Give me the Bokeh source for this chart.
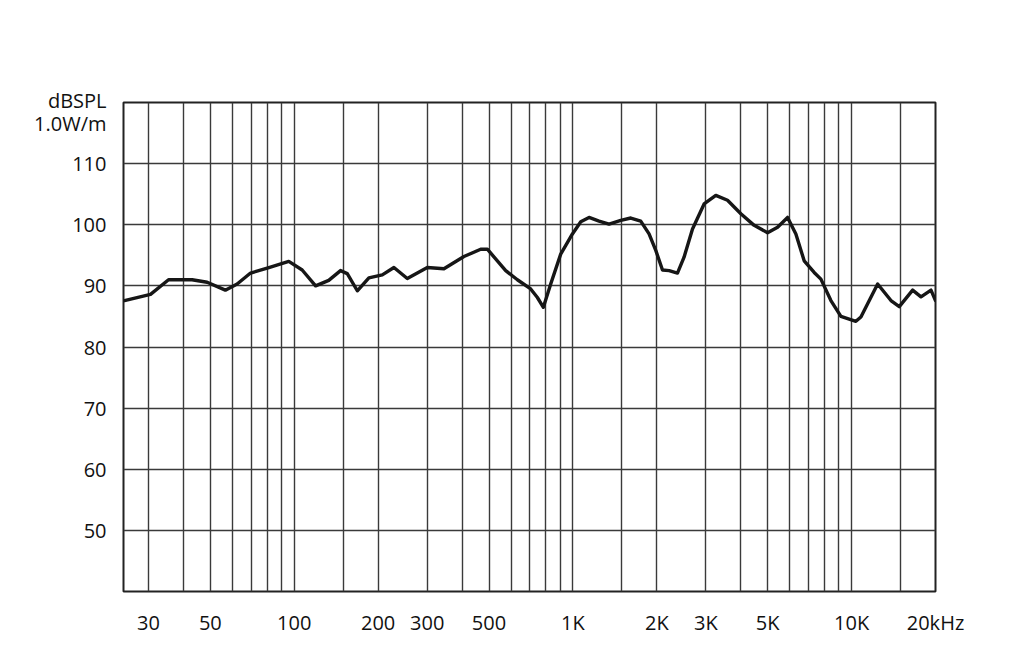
from bokeh.plotting import figure
from bokeh.models import FixedTicker, Range1d
from bokeh.embed import file_html
from bokeh.resources import INLINE

# Frequency response (Hz, dB SPL @ 1.0 W/m)
freq = [24.6, 30.5, 35.4, 43.0, 48.7, 56.6, 62.4, 69.7, 81.1, 95.6,
        106.8, 119.3, 133, 146.6, 155, 168.4, 185.3, 207, 227.9, 254.5,
        300.3, 344.5, 406.4, 466.7, 493.2, 573.8, 632, 705.5, 745.6, 783.4,
        832.4, 904, 995.9, 1067, 1142.6, 1241, 1348, 1485, 1613, 1751,
        1876, 1983, 2096, 2214, 2372, 2505, 2686, 2956, 3256, 3587,
        4005, 4470, 4993, 5425, 5891, 6310, 6758, 7339, 7759, 8428,
        9155, 10361, 10799, 12400, 13842, 14827, 16558, 17741, 19268, 20000]
spl = [87.6, 88.6, 91.0, 91.0, 90.6, 89.3, 90.3, 92.1, 93.0, 94.0,
       92.6, 90.0, 90.9, 92.5, 92.0, 89.2, 91.3, 91.8, 93.0, 91.2,
       93.0, 92.8, 94.8, 96.0, 96.0, 92.5, 91.0, 89.5, 88.1, 86.5,
       90.3, 95.2, 98.5, 100.5, 101.2, 100.6, 100.1, 100.7, 101.1, 100.6,
       98.5, 95.8, 92.6, 92.5, 92.1, 94.7, 99.3, 103.4, 104.8, 104.0,
       101.8, 99.9, 98.7, 99.6, 101.2, 98.5, 94.1, 92.2, 91.1, 87.6,
       85.0, 84.2, 84.9, 90.3, 87.6, 86.6, 89.3, 88.2, 89.3, 87.6]

x_label_ticks = [30, 50, 100, 200, 300, 500, 1000, 2000, 3000, 5000, 10000, 20000]
x_label_text = ["30", "50", "100", "200", "300", "500", "1K", "2K", "3K", "5K", "10K", "20kHz"]
x_grid_ticks = [30, 40, 50, 60, 70, 80, 90, 100, 150, 200, 300, 400, 500, 600, 700,
                800, 900, 1000, 1500, 2000, 3000, 4000, 5000, 6000, 7000, 8000,
                9000, 10000, 15000]
y_ticks = [50, 60, 70, 80, 90, 100, 110]
y_unit_text = "dBSPL\n1.0W/m"
y_unit_at = 118.4

FONT = "Open Sans"

p = figure(width=1000, height=661, x_axis_type="log", output_backend="svg",
           toolbar_location=None, x_range=Range1d(24.4, 20000), y_range=Range1d(40, 120),
           min_border_left=123, min_border_right=65, min_border_top=102, min_border_bottom=70)

p.outline_line_color = "#222222"
p.outline_line_width = 2
p.background_fill_color = "white"
p.border_fill_color = "white"

p.xgrid.ticker = FixedTicker(ticks=x_grid_ticks)
p.ygrid.ticker = FixedTicker(ticks=y_ticks)
for g in (p.xgrid, p.ygrid):
    g.grid_line_color = "#3a3a3a"
    g.grid_line_width = 1.4
    g.grid_line_alpha = 1.0

p.xaxis.ticker = FixedTicker(ticks=x_label_ticks)
p.xaxis.major_label_overrides = {t: s for t, s in zip(x_label_ticks, x_label_text)}
p.yaxis.ticker = FixedTicker(ticks=y_ticks + [y_unit_at])
p.yaxis.major_label_overrides = {y_unit_at: y_unit_text}

for ax in (p.xaxis, p.yaxis):
    ax.axis_line_color = None
    ax.major_tick_line_color = None
    ax.minor_tick_line_color = None
    ax.major_label_text_font = FONT
    ax.major_label_text_font_size = "20px"
    ax.major_label_text_color = "#111111"
p.xaxis.major_label_standoff = 11
p.yaxis.major_label_standoff = 11
p.yaxis.major_label_text_line_height = 0.85

p.line(freq, spl, line_color="#161616", line_width=3.4, line_join="round", line_cap="round")

open("out.html", "w").write(file_html(p, INLINE))
